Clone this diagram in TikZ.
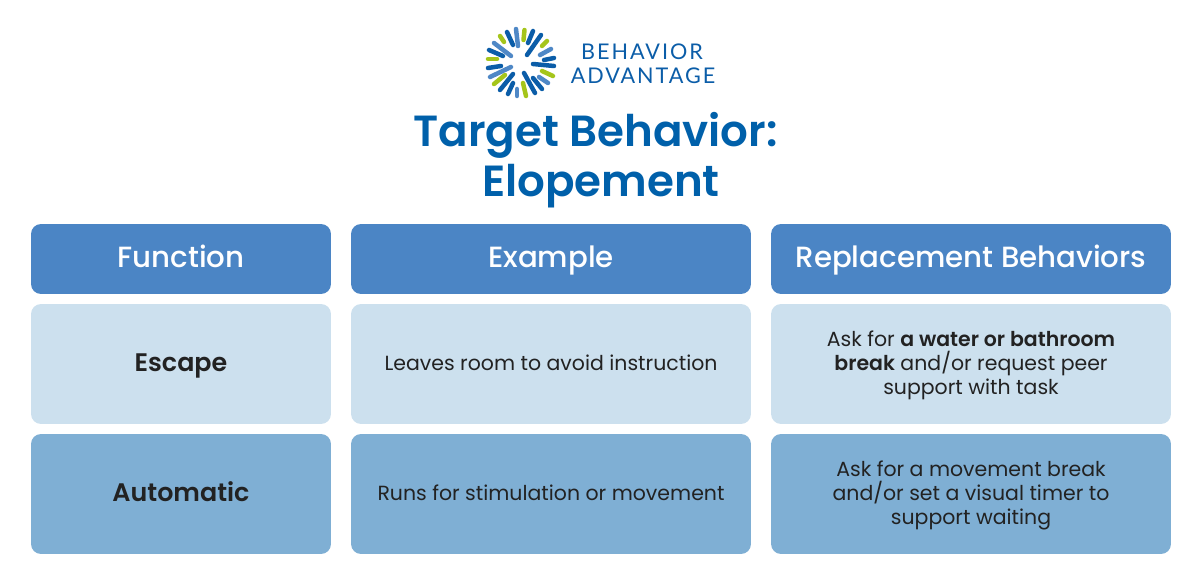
\documentclass[tikz,border=0pt]{standalone}
\usepackage{fontspec}
\setmainfont[BoldFont={Poppins SemiBold}]{Poppins}
\newfontfamily\logofont[LetterSpace=9]{Lato}
\newfontfamily\headfont{Poppins Medium}
\usetikzlibrary{positioning}
\definecolor{head_blue}{RGB}{75,133,197}
\definecolor{row_light}{RGB}{204,224,238}
\definecolor{row_mid}{RGB}{127,175,212}
\definecolor{title_blue}{RGB}{0,96,170}
\definecolor{text_dark}{RGB}{34,34,34}
\definecolor{logo_dark}{RGB}{11,93,168}
\definecolor{logo_mid}{RGB}{79,136,198}
\definecolor{logo_lime}{RGB}{165,197,27}
\newcommand{\celltop}{\rule{0pt}{\dimexpr.7\baselineskip+2.3pt}}

\begin{document}
\begin{tikzpicture}[x=0.02cm,y=-0.02cm]
    \tikzstyle{cell}=[rectangle, rounded corners=0.2cm, minimum height=1.4cm, inner sep=0pt, align=center, text=text_dark, font=\fontsize{11.65}{13.66}\selectfont, execute at begin node=\celltop, execute at end node=\strut]
    \tikzstyle{head}=[cell, fill=head_blue, text=white, font=\fontsize{16.65}{19}\headfont]
    \tikzstyle{fcol}=[minimum width=6cm]
    \tikzstyle{ecol}=[minimum width=8cm]
    \tikzstyle{rcol}=[minimum width=8cm]
    \tikzstyle{lightrow}=[cell, fill=row_light, minimum height=2.4cm]
    \tikzstyle{midrow}=[cell, fill=row_mid, minimum height=2.4cm]
    \tikzstyle{rowname}=[font=\fontsize{14.45}{17}\selectfont\bfseries]
    \tikzstyle{bar}=[line width=0.09cm, line cap=round]

    \useasboundingbox (0,0) rectangle (1200,580);

    % logo
    \foreach \xa/\ya/\xb/\yb/\col in {
      523.5/40/524.5/30/logo_lime, 528/43/533/31/logo_dark, 527/55/541/35/logo_dark,
      542/46/547/41/logo_lime, 540/55/551/49/logo_mid, 544/60/554/58/logo_dark,
      533/64/554/66/logo_dark, 542/71/553/76/logo_lime, 539/77/548/83/logo_mid,
      533/78/542/89/logo_dark, 524/73/535/93/logo_dark, 523/83/526/96/logo_lime,
      517/89/517/96/logo_mid, 513/83/508/94/logo_dark, 513/74/500/90/logo_dark,
      505/75/494/84/logo_lime, 511/67/490/77/logo_mid, 501/66/488/68/logo_dark,
      497/59/488/59/logo_lime, 503/56/489/50/logo_dark, 511/56/494/43/logo_mid,
      504/42/500/36/logo_lime, 513/45/507/32/logo_dark, 518/46/516/29/logo_mid}
      \draw[bar,draw=\col] (\xa,\ya) -- (\xb,\yb);
    \node[text=logo_dark, font=\fontsize{12.3}{14}\logofont] (logoa) at (642,52) {BEHAVIOR};
    \node[text=logo_dark, font=\fontsize{12.3}{14}\logofont] (logob) at (643,76) {ADVANTAGE};

    % title
    \node[text=title_blue, font=\fontsize{24.8}{30}\selectfont\bfseries] (titlea) at (595.5,135) {Target Behavior:};
    \node[text=title_blue, font=\fontsize{24.8}{30}\selectfont\bfseries] (titleb) at (601,186) {Elopement};

    % table
    \node[head,fcol] (hfunc) at (181,259) {Function};
    \node[head,ecol] (hexam) at (551,259) {Example};
    \node[head,rcol] (hrepl) at (971,259) {Replacement Behaviors};

    \node[lightrow,fcol,rowname] (escape) at (181,364) {Escape};
    \node[lightrow,ecol] (escex) at (551,364) {Leaves room to avoid instruction};
    \node[lightrow,rcol] (escre) at (971,364) {\celltop Ask for \textbf{a water or bathroom}\\\textbf{break} and/or request peer\\support with task\strut};

    \node[midrow,fcol,rowname] (auto) at (181,494) {Automatic};
    \node[midrow,ecol] (autex) at (551,494) {Runs for stimulation or movement};
    \node[midrow,rcol] (autre) at (971,494) {\celltop Ask for a movement break\\and/or set a visual timer to\\support waiting\strut};
\end{tikzpicture}
\end{document}
